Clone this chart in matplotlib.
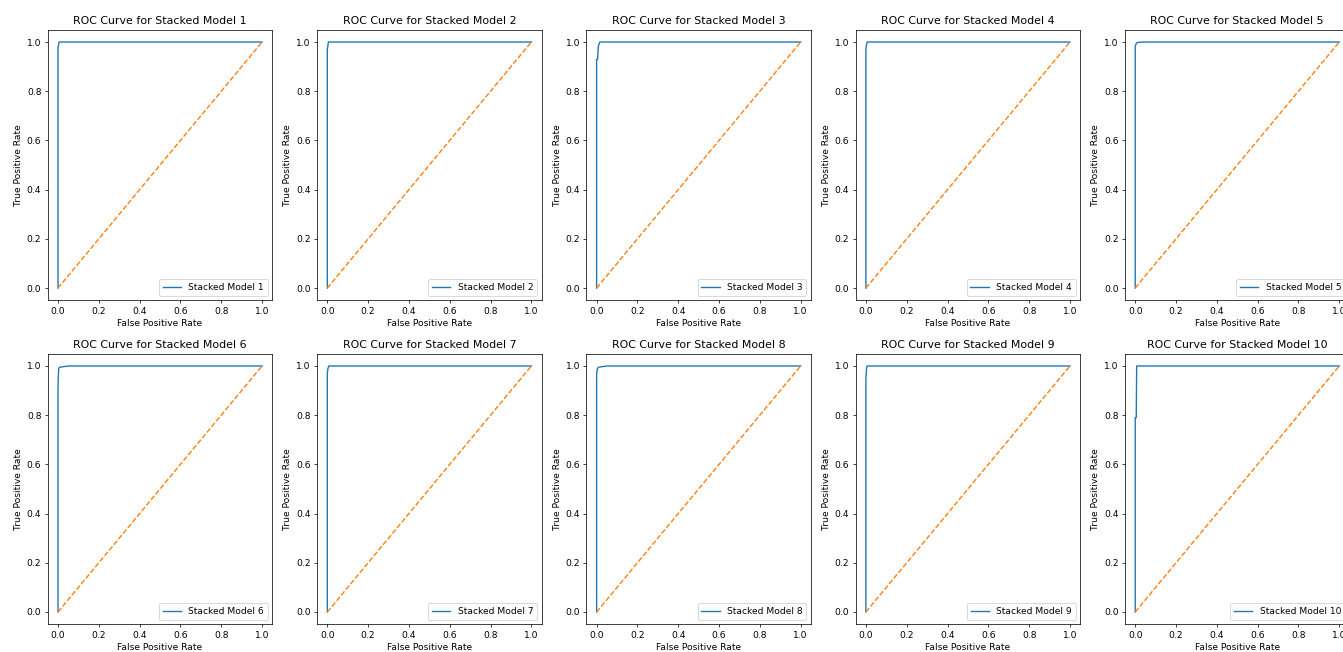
import matplotlib
matplotlib.use("Agg")
import matplotlib.pyplot as plt

# ROC points (fpr, tpr per stacked model)
model_names = ['Stacked Model %d' % i for i in range(1, 11)]
fpr_list = [
    [0.0, 0.0, 0.002, 0.005, 1.0],
    [0.0, 0.0, 0.002, 0.005, 1.0],
    [0.0, 0.0, 0.005, 0.008, 0.015, 1.0],
    [0.0, 0.0, 0.003, 0.006, 1.0],
    [0.0, 0.0, 0.005, 0.01, 0.04, 1.0],
    [0.0, 0.0, 0.003, 0.008, 0.05, 1.0],
    [0.0, 0.0, 0.003, 0.008, 1.0],
    [0.0, 0.0, 0.004, 0.01, 0.05, 1.0],
    [0.0, 0.0, 0.003, 0.006, 1.0],
    [0.0, 0.0, 0.005, 0.007, 1.0],
]
tpr_list = [
    [0.0, 0.98, 0.985, 1.0, 1.0],
    [0.0, 0.97, 0.98, 1.0, 1.0],
    [0.0, 0.93, 0.93, 0.98, 1.0, 1.0],
    [0.0, 0.97, 0.99, 1.0, 1.0],
    [0.0, 0.98, 0.995, 0.998, 1.0, 1.0],
    [0.0, 0.91, 0.99, 0.995, 1.0, 1.0],
    [0.0, 0.97, 0.99, 1.0, 1.0],
    [0.0, 0.97, 0.99, 0.995, 1.0, 1.0],
    [0.0, 0.95, 0.99, 1.0, 1.0],
    [0.0, 0.79, 0.79, 1.0, 1.0],
]

dpi = 66
fig, axes = plt.subplots(2, 5, figsize=(1343 / dpi, 652 / dpi), dpi=dpi)
fig.subplots_adjust(left=0.0356, right=1.0048, bottom=0.0425, top=0.9544,
                    wspace=0.2, hspace=0.197)

for i, ax in enumerate(axes.flat):
    ax.plot(fpr_list[i], tpr_list[i], label=model_names[i])
    ax.plot([0, 1], [0, 1], linestyle='--')
    ax.set_xlabel('False Positive Rate')
    ax.set_ylabel('True Positive Rate')
    ax.set_title('ROC Curve for %s' % model_names[i])
    ax.legend(loc='lower right')

fig.savefig('out.png', dpi=dpi)
